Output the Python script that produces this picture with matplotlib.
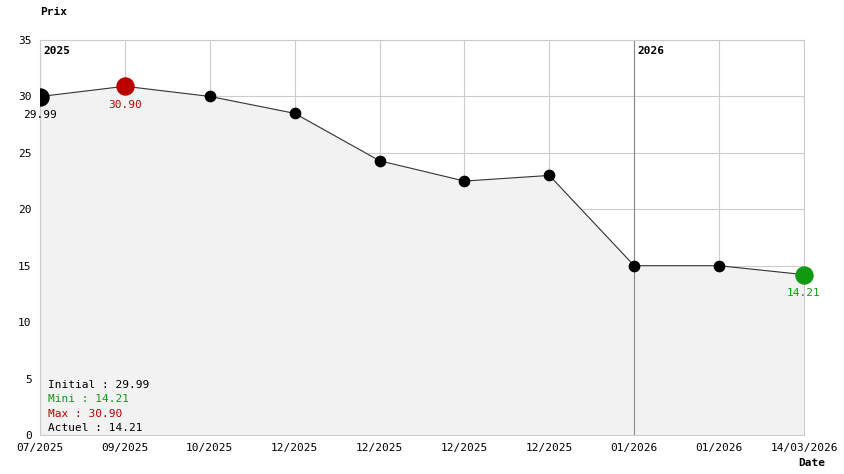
import matplotlib
matplotlib.use('Agg')
import matplotlib.pyplot as plt

plt.rcParams.update({'font.family': 'DejaVu Sans Mono', 'font.size': 8})

dates = ['07/2025', '09/2025', '10/2025', '12/2025', '12/2025', '12/2025',
         '12/2025', '01/2026', '01/2026', '14/03/2026']
prices = [29.99, 30.90, 30.00, 28.50, 24.30, 22.50, 23.00, 15.00, 15.00, 14.21]
years = [(0, '2025'), (7, '2026')]

fig = plt.figure(figsize=(8.44, 4.74), dpi=100)
ax = fig.add_axes([40 / 844, 39 / 474, 764 / 844, 395 / 474])
x = list(range(len(prices)))

ax.fill_between(x, prices, 0, color='#f2f2f2', zorder=1)
ax.plot(x, prices, color='#333333', lw=0.8, zorder=2)
ax.scatter(x[1:-1], prices[1:-1], s=55, color='black', zorder=3)
ax.scatter([0], [prices[0]], s=150, color='black', zorder=4)
ax.scatter([1], [prices[1]], s=150, color='#bb0000', zorder=4)
ax.scatter([9], [prices[9]], s=150, color='#119911', zorder=4, clip_on=False)

ax.text(0, prices[0] - 1.2, '29.99', ha='center', va='top', color='black')
ax.text(1, prices[1] - 1.2, '30.90', ha='center', va='top', color='#bb0000')
ax.text(9, prices[9] - 1.2, '14.21', ha='center', va='top', color='#119911')

for i, y in years:
    ax.axvline(i, color='#888888', lw=0.8, zorder=1.5)
    ax.text(i + 0.04, 34.5, y, fontweight='bold', va='top', ha='left')

ax.set_xlim(0, 9)
ax.set_ylim(0, 35)
ax.set_xticks(x)
ax.set_xticklabels(dates)
ax.set_yticks(range(0, 36, 5))
ax.grid(color='#cccccc', lw=0.8, zorder=0)
ax.set_axisbelow(True)
for s in ax.spines.values():
    s.set_color('#cccccc')
ax.tick_params(length=0, pad=6)

fig.text(40 / 844, 1 - 12 / 474, 'Prix', fontweight='bold', va='center')
fig.text(798 / 844, 1 - 463 / 474, 'Date', fontweight='bold', va='center')

legend = [('Initial : 29.99', 'black'), ('Mini : 14.21', '#119911'),
          ('Max : 30.90', '#bb0000'), ('Actuel : 14.21', 'black')]
for k, (t, c) in enumerate(legend):
    ax.text(0.1, 4.4 - k * 1.25, t, color=c, va='center')

fig.savefig('out.png', dpi=100)
